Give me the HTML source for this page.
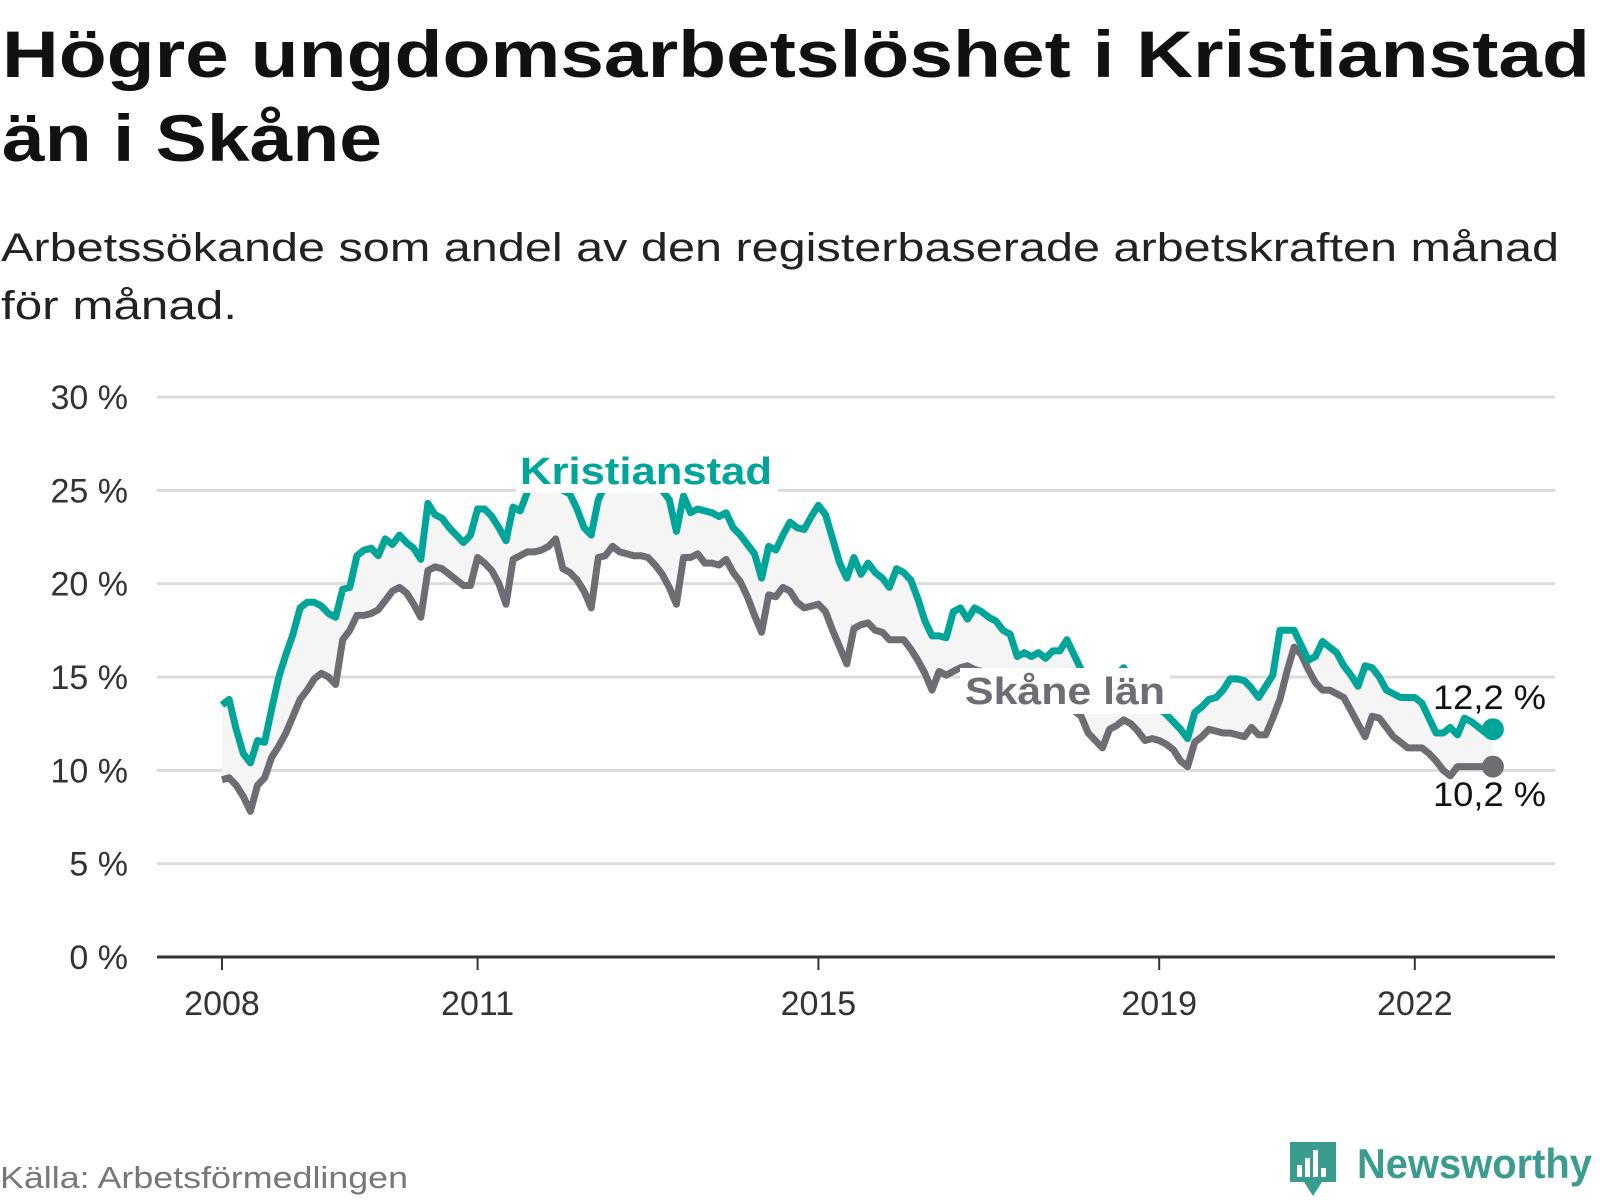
<!DOCTYPE html>
<html><head><meta charset="utf-8"><style>
html,body{margin:0;padding:0;background:#fff;}
svg{display:block;font-family:"Liberation Sans","DejaVu Sans",sans-serif;}
</style></head><body>
<svg id="chart" width="1600" height="1200" viewBox="0 0 1600 1200" xmlns="http://www.w3.org/2000/svg">
<text x="2" y="77" font-size="66" font-weight="bold" fill="#111" textLength="1588" lengthAdjust="spacingAndGlyphs">Högre ungdomsarbetslöshet i Kristianstad</text>
<text x="2" y="161" font-size="66" font-weight="bold" fill="#111" textLength="380" lengthAdjust="spacingAndGlyphs">än i Skåne</text>
<text x="1" y="261" font-size="40" fill="#222" textLength="1558" lengthAdjust="spacingAndGlyphs">Arbetssökande som andel av den registerbaserade arbetskraften månad</text>
<text x="1" y="319" font-size="40" fill="#222" textLength="236" lengthAdjust="spacingAndGlyphs">för månad.</text>
<g id="grid"></g>
<g id="yticks"></g>
<path id="band" fill="#f5f5f5" stroke="none"></path>
<path id="lineS" fill="none" stroke="#6e6d73" stroke-width="7" stroke-linejoin="round"></path>
<path id="lineK" fill="none" stroke="#00a59a" stroke-width="7" stroke-linejoin="round"></path>
<g id="axis"></g>
<g id="labels"></g>
<text x="0" y="1188" font-size="31" fill="#777" textLength="408" lengthAdjust="spacingAndGlyphs">Källa: Arbetsförmedlingen</text>
<g>
<path d="M1290 1142 h46 v40 h-14 l-9 14 l-9 -14 h-14 z" fill="#3a9c8f"/>
<rect x="1297" y="1165" width="5" height="12" fill="#fff"/>
<rect x="1305" y="1158" width="5" height="19" fill="#fff"/>
<rect x="1313" y="1150" width="5" height="27" fill="#fff"/>
<rect x="1321" y="1168" width="5" height="9" fill="#fff"/>
<text x="1357" y="1178" font-size="42" font-weight="bold" fill="#3a9c8f" textLength="235" lengthAdjust="spacingAndGlyphs">Newsworthy</text>
</g>
</svg>
<script>
const kristianstad = [13.5,13.8,12.2,10.9,10.4,11.6,11.5,13.3,15.0,16.2,17.3,18.7,
19.0,19.0,18.8,18.4,18.2,19.7,19.8,21.5,21.8,21.9,21.5,22.4,
22.1,22.6,22.2,21.9,21.3,24.3,23.7,23.5,23.0,22.6,22.2,22.6,
24.0,24.0,23.6,23.0,22.3,24.1,23.9,24.9,25.6,25.8,25.5,25.3,
25.0,24.8,24.0,23.0,22.6,24.5,25.3,25.5,25.8,25.6,25.5,25.6,
25.7,25.6,25.0,24.5,22.8,24.7,23.8,24.0,23.9,23.8,23.6,23.8,
23.0,22.6,22.1,21.6,20.3,22.0,21.8,22.6,23.3,23.0,22.9,23.6,
24.2,23.7,22.4,21.1,20.3,21.4,20.5,21.1,20.6,20.3,19.8,20.8,
20.6,20.2,19.2,18.0,17.2,17.2,17.1,18.5,18.7,18.1,18.7,18.5,
18.2,18.0,17.5,17.3,16.1,16.3,16.1,16.3,16.0,16.4,16.4,17.0,
16.2,15.4,14.9,14.4,14.1,14.0,15.1,15.5,14.8,14.3,14.0,13.6,
13.3,13.0,12.6,12.2,11.7,13.1,13.4,13.8,13.9,14.3,14.9,14.9,
14.8,14.4,13.9,14.5,15.1,17.5,17.5,17.5,16.7,15.9,16.1,16.9,
16.6,16.3,15.6,15.1,14.5,15.6,15.5,15.0,14.3,14.1,13.9,13.9,
13.9,13.6,12.8,12.0,12.0,12.3,11.9,12.8,12.6,12.3,12.0,12.2];
const skane = [9.5,9.6,9.2,8.6,7.8,9.2,9.6,10.7,11.3,12.0,12.9,13.8,
14.3,14.9,15.2,15.0,14.6,17.0,17.5,18.3,18.3,18.4,18.6,19.1,
19.6,19.8,19.5,18.9,18.2,20.7,20.9,20.8,20.5,20.2,19.9,19.9,
21.4,21.1,20.7,20.0,18.9,21.3,21.5,21.7,21.7,21.8,22.0,22.4,
20.8,20.6,20.2,19.6,18.7,21.4,21.5,22.0,21.7,21.6,21.5,21.5,
21.4,21.0,20.5,19.8,18.9,21.4,21.4,21.6,21.1,21.1,21.0,21.3,
20.6,20.1,19.3,18.3,17.4,19.4,19.3,19.8,19.6,19.0,18.7,18.8,
18.9,18.5,17.5,16.6,15.7,17.6,17.8,17.9,17.5,17.4,17.0,17.0,
17.0,16.5,15.9,15.2,14.3,15.3,15.1,15.3,15.5,15.6,15.4,15.3,
15.2,15.0,14.8,14.6,14.5,14.4,14.6,14.4,14.5,14.3,14.0,13.6,
13.2,12.9,12.0,11.6,11.2,12.2,12.4,12.7,12.5,12.1,11.6,11.7,
11.6,11.4,11.1,10.5,10.2,11.5,11.8,12.2,12.1,12.0,12.0,11.9,
11.8,12.3,11.9,11.9,12.8,13.8,15.3,16.6,16.2,15.4,14.7,14.3,
14.3,14.1,13.9,13.2,12.5,11.8,12.9,12.8,12.3,11.8,11.5,11.2,
11.2,11.2,10.9,10.5,10.0,9.7,10.2,10.2,10.2,10.2,10.2,10.2];
const yTicks = [0,5,10,15,20,25,30];
const xTickYears = [2008,2011,2015,2019,2022];
const startYear = 2008;
const endLabels = ["12,2 %","10,2 %"];

const NS="http://www.w3.org/2000/svg";
const X0=222, YEARPX=85.2, Y0=957, PCTPX=18.667, XL=157, XR=1555;
function xScale(monthIndex){return X0+monthIndex*YEARPX/12;}
function xYear(y){return X0+(y-startYear)*YEARPX;}
function yScale(v){return Y0-v*PCTPX;}
function mk(tag,attrs,parent){const e=document.createElementNS(NS,tag);for(const k in attrs)e.setAttribute(k,attrs[k]);parent.appendChild(e);return e;}

const grid=document.getElementById('grid'), yt=document.getElementById('yticks');
yTicks.forEach(t=>{
  if(t>0){const l=mk('line',{x1:XL,x2:XR,y1:yScale(t),y2:yScale(t),stroke:'#dcdcdc','stroke-width':3},grid);
  
  }
  const tx=mk('text',{x:128,y:yScale(t)+12,'font-size':34,fill:'#333','text-anchor':'end'},yt);
  
  
  tx.textContent=t+' %';
});
const ax=document.getElementById('axis');
mk('line',{x1:XL,x2:XR,y1:Y0,y2:Y0,stroke:'#333','stroke-width':3},ax);
xTickYears.forEach(y=>{
  const x=xYear(y);
  mk('line',{x1:x,x2:x,y1:Y0,y2:Y0+13,stroke:'#333','stroke-width':2},ax);
  const tx=mk('text',{x:x,y:1015,'font-size':34,fill:'#333','text-anchor':'middle'},ax);
  
  
  tx.textContent=y;
});
function pts(arr){return arr.map((v,i)=>[xScale(i),yScale(v)]);}
const pk=pts(kristianstad), ps=pts(skane);
const toD=p=>p.map((q,i)=>(i?'L':'M')+q[0].toFixed(1)+' '+q[1].toFixed(1)).join(' ');
document.getElementById('lineK').setAttribute('d',toD(pk));
document.getElementById('lineS').setAttribute('d',toD(ps));
document.getElementById('band').setAttribute('d',toD(pk)+' '+ps.slice().reverse().map(q=>'L'+q[0].toFixed(1)+' '+q[1].toFixed(1)).join(' ')+' Z');

const lab=document.getElementById('labels');
const lastK=pk[pk.length-1], lastS=ps[ps.length-1];
const dk=mk('circle',{cx:lastK[0],cy:lastK[1],r:11,fill:'#00a59a'},lab);


const ds=mk('circle',{cx:lastS[0],cy:lastS[1],r:11,fill:'#6e6d73'},lab);


mk('rect',{x:516,y:447,width:262,height:46,fill:'#fff'},lab);
const kl=mk('text',{x:520,y:484,'font-size':38,'font-weight':'bold',fill:'#00a59a',textLength:252,lengthAdjust:'spacingAndGlyphs'},lab);


kl.textContent='Kristianstad';
mk('rect',{x:960,y:668,width:210,height:46,fill:'#fff'},lab);
const sl=mk('text',{x:965,y:704,'font-size':38,'font-weight':'bold',fill:'#6e6d73',textLength:200,lengthAdjust:'spacingAndGlyphs'},lab);


sl.textContent='Skåne län';
const ek=mk('text',{x:1433,y:709,'font-size':34,fill:'#111',textLength:113,lengthAdjust:'spacingAndGlyphs'},lab);


ek.textContent=endLabels[0];
const es=mk('text',{x:1433,y:806,'font-size':34,fill:'#111',textLength:113,lengthAdjust:'spacingAndGlyphs'},lab);


es.textContent=endLabels[1];
</script>
</body></html>
